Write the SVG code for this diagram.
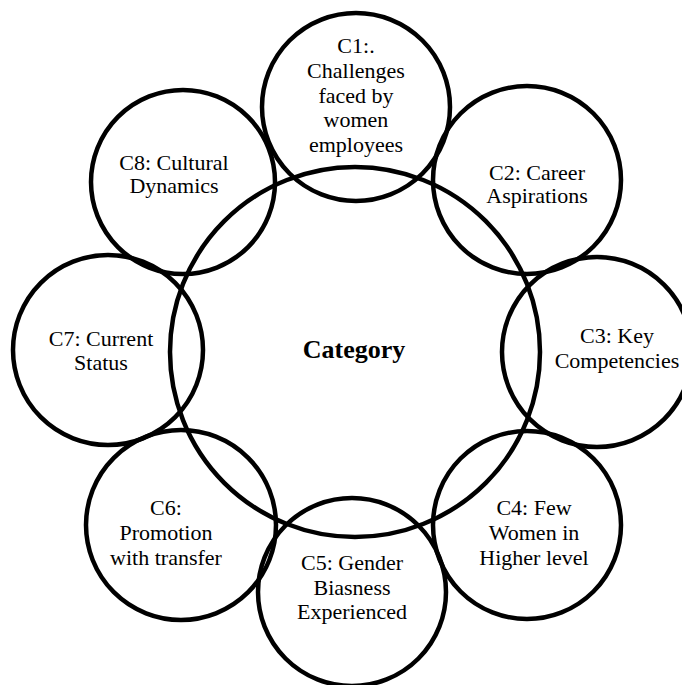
<svg xmlns="http://www.w3.org/2000/svg" width="682" height="685" viewBox="0 0 682 685">
<style>
.c{fill:none;stroke:#000;stroke-width:4.5}
.t{font-family:"Liberation Serif","Times New Roman",serif;font-size:22px;fill:#000;text-anchor:middle}
.b{font-family:"Liberation Serif","Times New Roman",serif;font-size:26px;font-weight:bold;fill:#000;text-anchor:middle}
</style>
<rect width="682" height="685" fill="#fff"/>
<g id="connectors"></g>
<g id="category"><circle class="c" cx="355" cy="352" r="185"/><text class="b" x="354" y="358">Category</text></g>
<g id="c1"><circle class="c" cx="356" cy="107" r="94"/>
<text class="t" x="356" y="53">C1:.</text><text class="t" x="356" y="78">Challenges</text><text class="t" x="356" y="103">faced by</text><text class="t" x="356" y="127">women</text><text class="t" x="356" y="152">employees</text></g>
<g id="c2"><circle class="c" cx="527" cy="180" r="94"/>
<text class="t" x="537" y="180">C2: Career</text><text class="t" x="537" y="203">Aspirations</text></g>
<g id="c3"><circle class="c" cx="597" cy="352" r="95"/>
<text class="t" x="617" y="343">C3: Key</text><text class="t" x="617" y="368">Competencies</text></g>
<g id="c4"><circle class="c" cx="527" cy="525" r="94"/>
<text class="t" x="534" y="515">C4: Few</text><text class="t" x="534" y="540">Women in</text><text class="t" x="534" y="565">Higher level</text></g>
<g id="c5"><circle class="c" cx="352" cy="592" r="94"/>
<text class="t" x="352" y="570">C5: Gender</text><text class="t" x="352" y="595">Biasness</text><text class="t" x="352" y="619">Experienced</text></g>
<g id="c6"><circle class="c" cx="181" cy="525" r="95"/>
<text class="t" x="166" y="515">C6:</text><text class="t" x="166" y="540">Promotion</text><text class="t" x="166" y="565">with transfer</text></g>
<g id="c7"><circle class="c" cx="108" cy="350" r="95"/>
<text class="t" x="101" y="346">C7: Current</text><text class="t" x="101" y="370">Status</text></g>
<g id="c8"><circle class="c" cx="183" cy="182" r="92"/>
<text class="t" x="174" y="170">C8: Cultural</text><text class="t" x="174" y="193">Dynamics</text></g>
</svg>
